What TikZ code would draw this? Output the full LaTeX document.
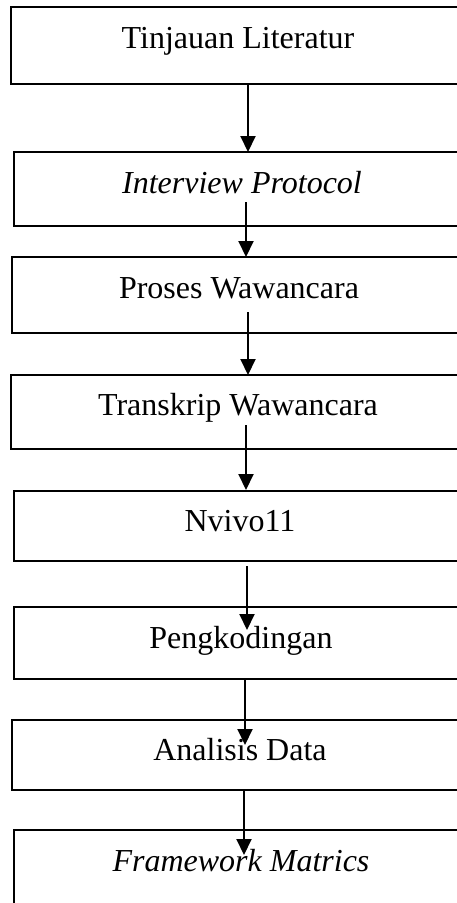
\documentclass[tikz,border=0pt]{standalone}
\usepackage{fontspec}
\setmainfont{Liberation Serif}
\usetikzlibrary{arrows.meta}
\begin{document}
\begin{tikzpicture}[x=1pt,y=-1pt,
  stepbox/.style={draw=black,line width=2pt,rectangle,inner sep=0pt},
  steptext/.style={anchor=base,inner sep=0pt,font=\fontsize{32}{38}\selectfont},
  flow/.style={draw=black,line width=2pt,-{Triangle[width=15pt,length=16pt]}}]
\useasboundingbox (0,0) rectangle (457,903);
\clip (0,0) rectangle (457,903);
% boxes
\node[stepbox,minimum width=459pt,minimum height=77pt] (b1) at (240.5,45.5) {};
\node[stepbox,minimum width=456pt,minimum height=74pt] (b2) at (242,189) {};
\node[stepbox,minimum width=458pt,minimum height=76pt] (b3) at (241,295) {};
\node[stepbox,minimum width=459pt,minimum height=74pt] (b4) at (240.5,412) {};
\node[stepbox,minimum width=456pt,minimum height=70pt] (b5) at (242,526) {};
\node[stepbox,minimum width=456pt,minimum height=72pt] (b6) at (242,643) {};
\node[stepbox,minimum width=458pt,minimum height=70pt] (b7) at (241,755) {};
\node[stepbox,minimum width=456pt,minimum height=85pt] (b8) at (242,872.5) {};
% texts
\node[steptext] (t1) at (238,48) {Tinjauan Literatur};
\node[steptext] (t2) at (242,193) {\itshape Interview Protocol};
\node[steptext] (t3) at (239,298) {Proses Wawancara};
\node[steptext] (t4) at (238,415) {Transkrip Wawancara};
\node[steptext] (t5) at (240,531) {Nvivo11};
\node[steptext] (t6) at (241,648) {Pengkodingan};
\node[steptext] (t7) at (240,760) {Analisis Data};
\node[steptext] (t8) at (241,871) {\itshape Framework Matrics};
% arrow end points
\coordinate (s1) at (248,84);  \coordinate (e1) at (248,152);
\coordinate (s2) at (246,202); \coordinate (e2) at (246,257);
\coordinate (s3) at (248,312); \coordinate (e3) at (248,375);
\coordinate (s4) at (246,425); \coordinate (e4) at (246,490);
\coordinate (s5) at (247,566); \coordinate (e5) at (247,630);
\coordinate (s6) at (245,679); \coordinate (e6) at (245,745);
\coordinate (s7) at (244,790); \coordinate (e7) at (244,855);
\draw[flow] (s1) -- (e1);
\draw[flow] (s2) -- (e2);
\draw[flow] (s3) -- (e3);
\draw[flow] (s4) -- (e4);
\draw[flow] (s5) -- (e5);
\draw[flow] (s6) -- (e6);
\draw[flow] (s7) -- (e7);
\end{tikzpicture}
\end{document}
